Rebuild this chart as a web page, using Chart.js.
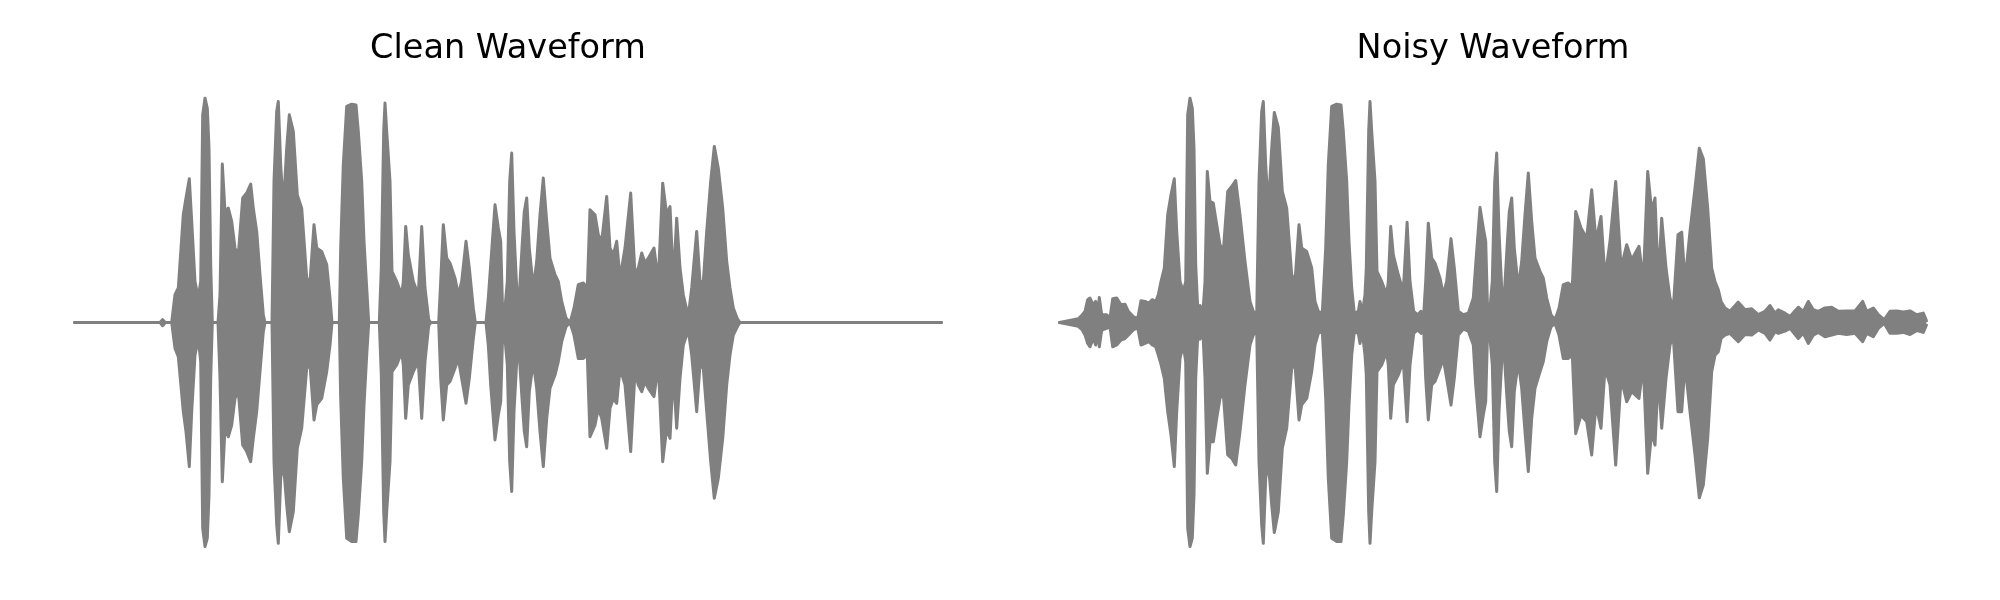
<!DOCTYPE html>
<html>
<head>
<meta charset="utf-8">
<script src="https://cdn.jsdelivr.net/npm/chart.js@4/dist/chart.umd.min.js"></script>
<style>
  body { margin: 0; background: #fff; }
  canvas { position: absolute; top: 0; }
  #clean { left: 0; }
  #noisy { left: 1000px; }
</style>
</head>
<body>
<canvas id="clean" width="1000" height="600"></canvas>
<canvas id="noisy" width="1000" height="600"></canvas>
<script>
// time in seconds, amplitude envelope (upper / lower)
const duration = 4.335;

const cleanTime = [0, 0.4275, 0.441, 0.454, 0.486, 0.5025, 0.519, 0.544, 0.5575, 0.574, 0.586, 0.6025, 0.619, 0.631, 0.641, 0.6525, 0.664, 0.6725, 0.681, 0.689, 0.7175, 0.7275, 0.739, 0.7525, 0.769, 0.786, 0.8025, 0.819, 0.841, 0.861, 0.881, 0.894, 0.911, 0.9275, 0.944, 0.9525, 0.9875, 0.9975, 1.011, 1.019, 1.031, 1.044, 1.061, 1.074, 1.094, 1.114, 1.136, 1.161, 1.1775, 1.1975, 1.211, 1.236, 1.261, 1.2775, 1.2875, 1.324, 1.331, 1.344, 1.361, 1.386, 1.4075, 1.419, 1.436, 1.4475, 1.461, 1.471, 1.524, 1.534, 1.546, 1.5525, 1.561, 1.5775, 1.5875, 1.611, 1.636, 1.644, 1.656, 1.669, 1.694, 1.719, 1.736, 1.7525, 1.771, 1.781, 1.821, 1.831, 1.844, 1.861, 1.8775, 1.9025, 1.919, 1.936, 1.9575, 1.974, 1.994, 2.004, 2.0575, 2.069, 2.081, 2.1025, 2.119, 2.131, 2.141, 2.151, 2.164, 2.176, 2.186, 2.1975, 2.211, 2.224, 2.2375, 2.249, 2.261, 2.274, 2.294, 2.311, 2.3275, 2.344, 2.361, 2.3775, 2.4025, 2.419, 2.436, 2.4575, 2.4775, 2.4975, 2.519, 2.544, 2.564, 2.5775, 2.6025, 2.619, 2.636, 2.661, 2.6775, 2.694, 2.711, 2.7275, 2.7525, 2.781, 2.8025, 2.819, 2.836, 2.8525, 2.869, 2.8975, 2.919, 2.941, 2.961, 2.9775, 2.994, 3.011, 3.0275, 3.044, 3.069, 3.086, 3.111, 3.1275, 3.144, 3.161, 3.181, 3.199, 3.219, 3.241, 3.261, 3.2775, 3.294, 3.314, 3.3275, 4.335];
const cleanUpper = [0, 0, 0.013, 0, 0, 0.124, 0.154, 0.480, 0.555, 0.641, 0.451, 0.183, 0.109, 0.183, 0.926, 1.0, 0.955, 0.777, 0.258, 0, 0, 0.124, 0.706, 0.495, 0.510, 0.451, 0.332, 0.302, 0.555, 0.577, 0.617, 0.510, 0.406, 0.213, 0.035, 0, 0, 0.629, 0.941, 0.985, 0.703, 0.510, 0.777, 0.926, 0.852, 0.569, 0.510, 0.198, 0.183, 0.436, 0.332, 0.317, 0.258, 0.109, 0, 0, 0.332, 0.703, 0.963, 0.973, 0.970, 0.852, 0.629, 0.362, 0.154, 0, 0, 0.243, 0.852, 0.978, 0.852, 0.629, 0.228, 0.183, 0.124, 0.183, 0.428, 0.302, 0.183, 0.124, 0.428, 0.154, 0.013, 0, 0, 0.183, 0.436, 0.287, 0.265, 0.198, 0.124, 0.183, 0.362, 0.243, 0.064, 0, 0, 0.109, 0.258, 0.525, 0.421, 0.362, 0.035, 0.050, 0.183, 0.629, 0.755, 0.406, 0.154, 0.124, 0.332, 0.495, 0.555, 0.332, 0.154, 0.272, 0.480, 0.644, 0.451, 0.287, 0.213, 0.183, 0.094, 0.020, 0, 0.064, 0.169, 0.176, 0.154, 0.503, 0.480, 0.391, 0.362, 0.562, 0.332, 0.302, 0.362, 0.198, 0.332, 0.577, 0.213, 0.243, 0.310, 0.265, 0.287, 0.332, 0.183, 0.621, 0.480, 0.517, 0.183, 0.465, 0.243, 0.124, 0.027, 0.154, 0.406, 0.183, 0.183, 0.406, 0.629, 0.785, 0.688, 0.510, 0.272, 0.154, 0.065, 0.017, 0, 0];
const cleanLower = [0, 0, -0.014, 0, 0, -0.115, -0.152, -0.397, -0.486, -0.642, -0.397, -0.145, -0.071, -0.174, -0.917, -0.998, -0.961, -0.768, -0.249, 0, 0, -0.249, -0.709, -0.471, -0.509, -0.457, -0.338, -0.308, -0.546, -0.575, -0.620, -0.516, -0.397, -0.219, -0.041, 0, 0, -0.620, -0.902, -0.984, -0.694, -0.620, -0.813, -0.932, -0.843, -0.560, -0.471, -0.204, -0.189, -0.434, -0.367, -0.338, -0.219, -0.100, 0, 0, -0.338, -0.694, -0.961, -0.976, -0.976, -0.857, -0.620, -0.367, -0.145, 0, 0, -0.234, -0.843, -0.976, -0.843, -0.620, -0.219, -0.189, -0.130, -0.189, -0.427, -0.278, -0.219, -0.174, -0.427, -0.174, -0.014, 0, 0, -0.249, -0.434, -0.278, -0.263, -0.204, -0.160, -0.249, -0.360, -0.249, -0.071, 0, 0, -0.100, -0.278, -0.523, -0.412, -0.353, -0.041, -0.056, -0.189, -0.620, -0.753, -0.397, -0.174, -0.145, -0.338, -0.486, -0.553, -0.308, -0.174, -0.293, -0.486, -0.642, -0.427, -0.293, -0.234, -0.174, -0.085, -0.019, 0, -0.056, -0.160, -0.160, -0.145, -0.509, -0.457, -0.382, -0.427, -0.560, -0.382, -0.338, -0.360, -0.204, -0.278, -0.575, -0.219, -0.278, -0.308, -0.263, -0.293, -0.330, -0.189, -0.620, -0.471, -0.516, -0.219, -0.471, -0.249, -0.100, -0.033, -0.145, -0.397, -0.189, -0.204, -0.397, -0.620, -0.783, -0.694, -0.516, -0.278, -0.145, -0.056, -0.019, 0, 0];

const noisyTime = [0, 0.044, 0.094, 0.114, 0.1275, 0.141, 0.1525, 0.169, 0.181, 0.191, 0.199, 0.211, 0.236, 0.2525, 0.266, 0.286, 0.3075, 0.3275, 0.344, 0.369, 0.391, 0.4075, 0.4275, 0.4475, 0.464, 0.481, 0.494, 0.5075, 0.524, 0.541, 0.5575, 0.574, 0.586, 0.6025, 0.619, 0.631, 0.641, 0.6525, 0.664, 0.6725, 0.681, 0.691, 0.7025, 0.7175, 0.7275, 0.739, 0.7525, 0.769, 0.786, 0.8025, 0.819, 0.841, 0.861, 0.881, 0.9025, 0.9275, 0.9525, 0.969, 0.986, 0.9975, 1.011, 1.019, 1.031, 1.044, 1.061, 1.074, 1.094, 1.114, 1.136, 1.161, 1.1775, 1.1975, 1.211, 1.236, 1.261, 1.2775, 1.294, 1.314, 1.331, 1.344, 1.361, 1.386, 1.4075, 1.419, 1.436, 1.4475, 1.461, 1.474, 1.494, 1.5025, 1.514, 1.5275, 1.534, 1.546, 1.5525, 1.561, 1.5775, 1.5875, 1.611, 1.636, 1.644, 1.656, 1.669, 1.694, 1.719, 1.738, 1.7525, 1.771, 1.791, 1.8075, 1.821, 1.831, 1.844, 1.861, 1.8775, 1.9025, 1.919, 1.936, 1.9575, 1.974, 1.994, 2.019, 2.044, 2.069, 2.081, 2.1025, 2.119, 2.131, 2.141, 2.151, 2.164, 2.176, 2.186, 2.1975, 2.211, 2.224, 2.2375, 2.249, 2.261, 2.274, 2.294, 2.311, 2.3275, 2.344, 2.361, 2.3775, 2.4025, 2.419, 2.436, 2.4575, 2.4775, 2.4975, 2.519, 2.544, 2.564, 2.581, 2.6075, 2.636, 2.661, 2.6825, 2.7075, 2.7275, 2.7525, 2.781, 2.808, 2.836, 2.861, 2.8975, 2.919, 2.941, 2.961, 2.9775, 2.994, 3.011, 3.0325, 3.0525, 3.069, 3.0925, 3.111, 3.1275, 3.1525, 3.1775, 3.199, 3.219, 3.241, 3.261, 3.2775, 3.294, 3.308, 3.3275, 3.3525, 3.394, 3.4275, 3.461, 3.494, 3.5275, 3.5525, 3.5775, 3.594, 3.6275, 3.6525, 3.694, 3.719, 3.744, 3.769, 3.794, 3.8275, 3.861, 3.894, 3.936, 3.9775, 4.016, 4.036, 4.069, 4.094, 4.124, 4.1525, 4.186, 4.219, 4.2525, 4.286, 4.319, 4.335];
const noisyUpper = [0, 0.008, 0.017, 0.035, 0.050, 0.102, 0.109, 0.079, 0.094, 0.035, 0.112, 0.035, 0.035, 0.020, 0.106, 0.109, 0.079, 0.082, 0.050, 0.027, 0.017, 0.097, 0.094, 0.087, 0.102, 0.094, 0.124, 0.183, 0.243, 0.480, 0.569, 0.641, 0.406, 0.183, 0.139, 0.183, 0.926, 1.0, 0.955, 0.777, 0.258, 0.064, 0.076, 0.050, 0.183, 0.673, 0.540, 0.532, 0.436, 0.347, 0.317, 0.584, 0.606, 0.633, 0.480, 0.272, 0.094, 0.050, 0.035, 0.629, 0.941, 0.985, 0.703, 0.510, 0.777, 0.936, 0.870, 0.584, 0.510, 0.213, 0.183, 0.436, 0.332, 0.317, 0.243, 0.094, 0.050, 0.042, 0.332, 0.703, 0.963, 0.973, 0.970, 0.852, 0.629, 0.362, 0.154, 0.042, 0.050, 0.094, 0.042, 0.124, 0.243, 0.852, 0.985, 0.852, 0.629, 0.228, 0.183, 0.124, 0.183, 0.428, 0.302, 0.213, 0.139, 0.447, 0.183, 0.050, 0.035, 0.050, 0.035, 0.183, 0.443, 0.287, 0.265, 0.198, 0.124, 0.183, 0.374, 0.243, 0.050, 0.035, 0.042, 0.109, 0.258, 0.513, 0.421, 0.362, 0.035, 0.050, 0.183, 0.629, 0.755, 0.406, 0.154, 0.124, 0.332, 0.495, 0.555, 0.332, 0.154, 0.272, 0.480, 0.666, 0.451, 0.287, 0.228, 0.198, 0.109, 0.035, 0.013, 0.064, 0.169, 0.176, 0.161, 0.495, 0.421, 0.376, 0.592, 0.362, 0.473, 0.198, 0.362, 0.629, 0.243, 0.347, 0.280, 0.340, 0.183, 0.673, 0.495, 0.555, 0.183, 0.465, 0.243, 0.109, 0.064, 0.391, 0.403, 0.183, 0.406, 0.599, 0.777, 0.730, 0.510, 0.243, 0.183, 0.146, 0.094, 0.065, 0.050, 0.091, 0.057, 0.061, 0.035, 0.050, 0.076, 0.042, 0.057, 0.042, 0.027, 0.068, 0.050, 0.094, 0.057, 0.050, 0.065, 0.068, 0.050, 0.052, 0.052, 0.094, 0.050, 0.065, 0.035, 0.013, 0.050, 0.052, 0.047, 0.052, 0.035, 0.042, 0.008];
const noisyLower = [0, -0.008, -0.017, -0.033, -0.056, -0.093, -0.108, -0.071, -0.100, -0.033, -0.108, -0.033, -0.026, -0.019, -0.108, -0.100, -0.078, -0.071, -0.056, -0.033, -0.023, -0.100, -0.093, -0.085, -0.100, -0.108, -0.145, -0.186, -0.249, -0.397, -0.501, -0.642, -0.397, -0.160, -0.100, -0.174, -0.917, -0.998, -0.961, -0.768, -0.249, -0.063, -0.074, -0.048, -0.249, -0.672, -0.531, -0.531, -0.427, -0.338, -0.316, -0.590, -0.605, -0.635, -0.486, -0.278, -0.100, -0.056, -0.033, -0.620, -0.902, -0.984, -0.694, -0.620, -0.813, -0.936, -0.843, -0.560, -0.471, -0.204, -0.189, -0.434, -0.367, -0.338, -0.219, -0.100, -0.048, -0.038, -0.338, -0.694, -0.961, -0.976, -0.976, -0.857, -0.620, -0.367, -0.145, -0.041, -0.048, -0.093, -0.041, -0.145, -0.234, -0.843, -0.984, -0.843, -0.620, -0.219, -0.189, -0.130, -0.189, -0.427, -0.278, -0.234, -0.174, -0.442, -0.189, -0.048, -0.033, -0.048, -0.033, -0.249, -0.434, -0.278, -0.263, -0.204, -0.160, -0.249, -0.368, -0.249, -0.056, -0.029, -0.038, -0.100, -0.278, -0.509, -0.412, -0.353, -0.019, -0.056, -0.189, -0.620, -0.753, -0.397, -0.174, -0.145, -0.338, -0.486, -0.553, -0.308, -0.174, -0.293, -0.486, -0.664, -0.427, -0.293, -0.220, -0.174, -0.085, -0.019, -0.004, -0.056, -0.160, -0.160, -0.145, -0.495, -0.412, -0.442, -0.590, -0.367, -0.471, -0.204, -0.278, -0.635, -0.249, -0.353, -0.308, -0.338, -0.189, -0.672, -0.486, -0.546, -0.234, -0.471, -0.249, -0.100, -0.063, -0.397, -0.397, -0.189, -0.397, -0.590, -0.781, -0.724, -0.516, -0.219, -0.145, -0.130, -0.071, -0.056, -0.048, -0.085, -0.053, -0.056, -0.033, -0.048, -0.078, -0.041, -0.048, -0.038, -0.026, -0.071, -0.048, -0.093, -0.056, -0.044, -0.063, -0.056, -0.048, -0.053, -0.048, -0.085, -0.048, -0.063, -0.026, -0.004, -0.048, -0.048, -0.044, -0.053, -0.036, -0.044, -0.011];

const waveColor = '#808080';

function toPoints(xs, ys) {
  return xs.map((x, i) => ({ x: x, y: ys[i] }));
}

function makeChart(id, title, time, upper, lower, padLeft, padRight) {
  const line = {
    borderColor: waveColor,
    backgroundColor: waveColor,
    borderWidth: 3,
    borderJoinStyle: 'round',
    borderCapStyle: 'round',
    pointRadius: 0,
    tension: 0,
    clip: false,
  };
  return new Chart(document.getElementById(id), {
    type: 'line',
    data: {
      datasets: [
        // upper envelope filled down to the lower one
        Object.assign({ data: toPoints(time, upper), fill: '+1' }, line),
        Object.assign({ data: toPoints(time, lower), fill: false }, line),
      ],
    },
    options: {
      responsive: false,
      animation: false,
      devicePixelRatio: 1,
      layout: {
        padding: { left: padLeft, right: padRight, top: 29.5, bottom: 30.6 },
      },
      scales: {
        x: { type: 'linear', display: false, min: 0, max: duration },
        y: { display: false, min: -1.1, max: 1.1 },
      },
      plugins: {
        legend: { display: false },
        tooltip: { enabled: false },
        title: {
          display: true,
          text: title,
          color: '#000',
          font: { family: 'DejaVu Sans', size: 33.5, weight: 'normal' },
          padding: { top: 0, bottom: 6 },
        },
      },
    },
  });
}

makeChart('clean', 'Clean Waveform', cleanTime, cleanUpper, cleanLower, 74.5, 58.5);
makeChart('noisy', 'Noisy Waveform', noisyTime, noisyUpper, noisyLower, 59.5, 73.5);
</script>
</body>
</html>
